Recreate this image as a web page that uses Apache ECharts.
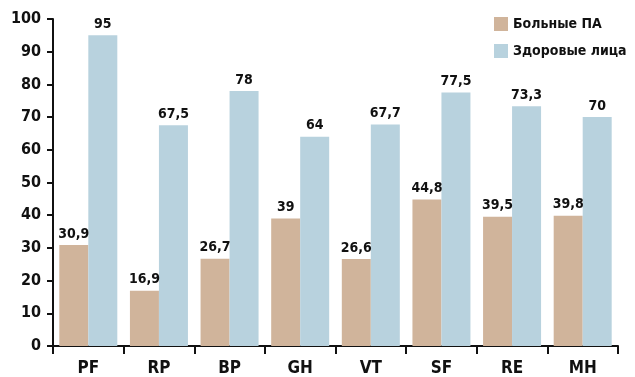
<!DOCTYPE html>
<html><head><meta charset="utf-8">
<script src="https://cdn.jsdelivr.net/npm/echarts@6/dist/echarts.min.js"></script>
<style>html,body{margin:0;padding:0;background:#fff}#c{width:635px;height:377px}</style>
</head><body><div id="c"></div>
<script>
const categories = ['PF','RP','BP','GH','VT','SF','RE','MH'];
const patients = [30.9, 16.9, 26.7, 39, 26.6, 44.8, 39.5, 39.8];
const healthy = [95, 67.5, 78, 64, 67.7, 77.5, 73.3, 70];
const seriesNames = ['Больные ПА', 'Здоровые лица'];

const FONT = '"DejaVu Sans Condensed", "Liberation Sans Narrow", "Liberation Sans", sans-serif';
const chart = echarts.init(document.getElementById('c'));
const lbl = {
  show: true, position: 'top', distance: 4,
  color: '#111', fontWeight: 'bold', fontSize: 14, fontFamily: FONT,
  formatter: p => String(p.value).replace('.', ',')
};
chart.setOption({
  animation: false,
  textStyle: { fontFamily: FONT },
  legend: {
    orient: 'vertical', left: 489, top: 12, itemWidth: 14, itemHeight: 14, itemGap: 13,
    icon: 'rect',
    textStyle: { fontFamily: FONT, fontWeight: 'bold', fontSize: 14, color: '#111' },
    data: seriesNames
  },
  grid: { left: 53, top: 19, right: 17, bottom: 22, containLabel: false },
  xAxis: {
    type: 'category', data: categories,
    axisLine: { lineStyle: { color: '#111', width: 2 } },
    axisTick: { show: true, length: 8, lineStyle: { color: '#111', width: 2 } },
    axisLabel: { color: '#111', fontWeight: 'bold', fontSize: 17, fontFamily: FONT, margin: 14 }
  },
  yAxis: {
    type: 'value', min: 0, max: 100, interval: 10,
    axisLine: { show: true, lineStyle: { color: '#111', width: 2 } },
    axisTick: { show: true, length: 6, lineStyle: { color: '#111', width: 2 } },
    axisLabel: { color: '#111', fontWeight: 'bold', fontSize: 16, fontFamily: FONT, margin: 12 },
    splitLine: { show: false }
  },
  series: [
    { name: seriesNames[0], type: 'bar', data: patients, barWidth: 29, barGap: '0%',
      itemStyle: { color: '#d0b49b' }, label: lbl },
    { name: seriesNames[1], type: 'bar', data: healthy, barWidth: 29,
      itemStyle: { color: '#b8d2de' }, label: lbl }
  ]
});
</script></body></html>
